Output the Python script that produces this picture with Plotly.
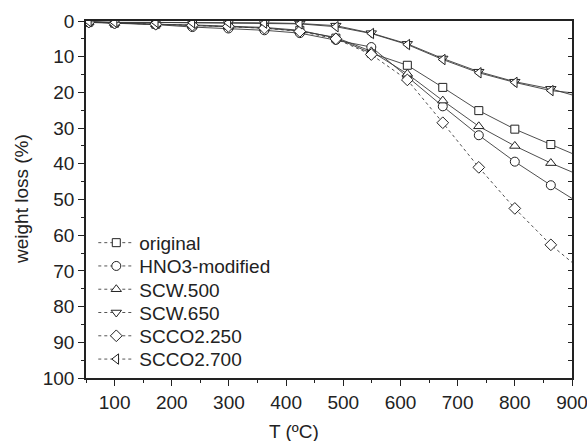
import plotly.graph_objects as go

# Temperatures (°C) at marker positions, plus line end at 900
T_markers = [55, 100, 172, 236, 299, 362, 424, 487, 549, 612, 674, 737, 800, 863]
T_end = 900

series_names = ["original", "HNO3-modified", "SCW.500", "SCW.650", "SCCO2.250", "SCCO2.700"]

original = [0.3, 0.6, 0.9, 1.1, 1.4, 1.8, 2.6, 4.8, 9.0, 12.4, 18.6, 25.1, 30.3, 34.6]
hno3_modified = [0.4, 0.7, 1.0, 1.7, 2.1, 2.6, 3.4, 5.3, 7.3, 15.6, 23.9, 32.0, 39.4, 46.0]
scw_500 = [0.3, 0.6, 0.9, 1.3, 1.6, 2.0, 2.8, 4.6, 8.5, 14.8, 22.3, 29.5, 35.0, 39.8]
scw_650 = [0.2, 0.4, 0.4, 0.4, 0.5, 0.5, 0.7, 1.3, 3.4, 6.4, 10.5, 14.2, 17.0, 19.0]
scco2_250 = [0.3, 0.6, 0.9, 1.2, 1.5, 2.0, 2.9, 5.0, 9.4, 16.5, 28.5, 41.0, 52.5, 62.7]
scco2_700 = [0.2, 0.4, 0.4, 0.5, 0.5, 0.6, 0.8, 1.6, 3.5, 6.6, 10.8, 14.5, 17.2, 19.5]

end_values = [37.1, 49.7, 42.3, 20.7, 67.6, 20.1]

y_tick_vals = [0, 10, 20, 30, 40, 50, 60, 70, 80, 90, 100]
x_tick_vals = [100, 200, 300, 400, 500, 600, 700, 800, 900]

all_series = [original, hno3_modified, scw_500, scw_650, scco2_250, scco2_700]
symbols = ["square", "circle", "triangle-up", "triangle-down", "diamond", "triangle-left"]
dashes = ["solid", "solid", "solid", "solid", "dot", "solid"]
sizes = [8, 9, 9, 9, 9, 9]

LINE = "#3a3a3a"
FONT = "Liberation Sans, Arial, sans-serif"
FS = 19

fig = go.Figure()

for name, vals, endv, sym, dash, sz in zip(series_names, all_series, end_values, symbols, dashes, sizes):
    fig.add_trace(go.Scatter(
        x=T_markers + [T_end], y=vals + [endv], mode="lines",
        line=dict(color=LINE, width=0.9, dash=dash),
        showlegend=False, hoverinfo="skip"))
    fig.add_trace(go.Scatter(
        x=T_markers, y=vals, mode="markers",
        marker=dict(symbol=sym, size=sz, color="white", line=dict(color="#222", width=1)),
        showlegend=False, name=name))

# legend entries, each in its own legend for exact spacing
legend_layout = {}
row_px = [242.7, 266.0, 289.3, 312.6, 335.9, 359.2]
plot_top, plot_bot = 20.7, 378.0
for i, (name, sym, sz) in enumerate(zip(series_names, symbols, sizes)):
    key = "legend" if i == 0 else f"legend{i+1}"
    fig.add_trace(go.Scatter(
        x=[None], y=[None], mode="lines+markers", name=name, legend=key,
        line=dict(color="#555", width=1, dash="dot"),
        marker=dict(symbol=sym, size=sz, color="white", line=dict(color="#222", width=1))))
    ypaper = (plot_bot - row_px[i]) / (plot_bot - plot_top)
    legend_layout[key] = dict(x=0.015, y=ypaper, xanchor="left", yanchor="middle",
                              bgcolor="rgba(0,0,0,0)", borderwidth=0,
                              font=dict(size=FS, color="#222"), itemwidth=36)

fig.add_trace(go.Scatter(x=[None], y=[None], yaxis="y2", showlegend=False))

fig.update_layout(
    width=587, height=441,
    margin=dict(l=85.5, r=15.3, t=20.7, b=63, autoexpand=False),
    paper_bgcolor="white", plot_bgcolor="white",
    font=dict(family=FONT, size=FS, color="#222"),
    showlegend=True,
    xaxis=dict(range=[50, 900], tickvals=x_tick_vals, ticks="outside", ticklen=6,
               tickwidth=1.2, tickcolor="#222", showline=True, linecolor="#222",
               linewidth=1.5, mirror=True, showgrid=False, zeroline=False,
               ticklabeloverflow="allow",
               minor=dict(dtick=50, tick0=0, ticks="outside", ticklen=3.5, tickcolor="#222"),
               tickfont=dict(size=FS)),
    yaxis=dict(range=[100, 0], tickvals=y_tick_vals, ticks="outside", ticklen=6,
               tickwidth=1.2, tickcolor="#222", showline=True, linecolor="#222",
               linewidth=1.5, mirror=True, showgrid=False, zeroline=False,
               ticklabeloverflow="allow",
               minor=dict(dtick=5, tick0=0, ticks="outside", ticklen=3.5, tickcolor="#222"),
               tickfont=dict(size=FS)),
    yaxis2=dict(overlaying="y", side="right", range=[100, 0], dtick=5, tick0=0,
                ticks="inside", ticklen=4, tickcolor="#222", showticklabels=False,
                showgrid=False, zeroline=False, showline=True, linecolor="#222", linewidth=1.5),
    annotations=[
        dict(text="T (ºC)", x=0.427, y=-0.151, xref="paper", yref="paper",
             xanchor="center", yanchor="middle", showarrow=False, font=dict(size=FS)),
        dict(text="weight loss (%)", x=-0.1327, y=0.5, xref="paper", yref="paper",
             xanchor="center", yanchor="middle", showarrow=False, textangle=-90,
             font=dict(size=FS)),
    ],
    **legend_layout,
)

# remove the browser's default 8px body margin so the figure sits at the window origin
fig.write_html("out.html",
               config={"displayModeBar": False},
               post_script="document.body.style.margin='0';document.body.style.overflow='hidden';")
